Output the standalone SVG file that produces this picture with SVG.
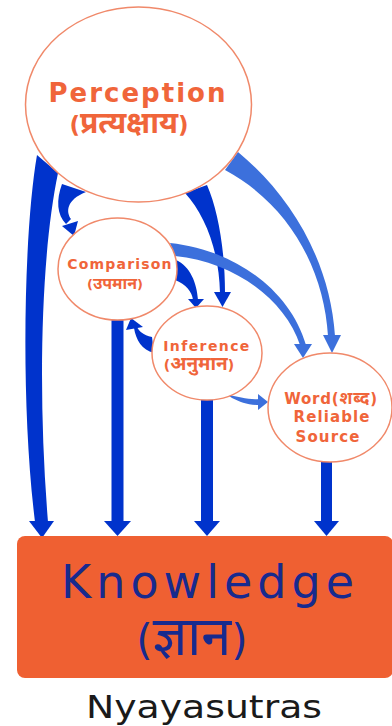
<svg xmlns="http://www.w3.org/2000/svg" width="392" height="726" viewBox="0 0 392 726">
<style>
.node{fill:#ffffff;stroke:#f0896a;stroke-width:1.5}
.lbl{font-family:"DejaVu Sans","Noto Sans",sans-serif;font-weight:bold;fill:#f0653a;text-anchor:middle}
.dk{fill:#0033cc}
.lt{fill:#3c70dc}
.kn{font-family:"DejaVu Sans","Noto Sans",sans-serif;fill:#172a8e;text-anchor:middle}
</style>
<rect width="392" height="726" fill="#ffffff"/>
<g id="connectors">
  <!-- Perception -> Knowledge -->
  <path class="dk" d="M37,155 C24,230 20,400 35,522 L48,522 C38,400 40,260 58,173 Z"/>
  <polygon class="dk" points="29,521 54,521 42,538"/>
  <!-- Comparison -> Knowledge -->
  <rect class="dk" x="111.5" y="318" width="12" height="204"/>
  <polygon class="dk" points="104,521 131,521 117.5,536"/>
  <!-- Inference -> Knowledge -->
  <rect class="dk" x="201" y="398" width="12" height="124"/>
  <polygon class="dk" points="194,521 220,521 207,536"/>
  <!-- Word -> Knowledge -->
  <rect class="dk" x="321" y="459" width="11" height="63"/>
  <polygon class="dk" points="314,521 339,521 326.5,536"/>
  <!-- Perception -> Comparison -->
  <path class="dk" d="M62,184 C56,200 57,215 66,224 L71,219 C66,212 66,200 86,192 Z"/>
  <polygon class="dk" points="62,226 78,221 74,236"/>
  <!-- Perception -> Inference -->
  <path class="dk" d="M185,193 C205,215 219,250 220,293 L225,293 C225,250 218,210 207,185 Z"/>
  <polygon class="dk" points="214,292 231,292 222.5,307"/>
  <!-- Comparison -> Inference -->
  <path class="dk" d="M176,260 C190,266 197,283 198,300 L193,300 C192,292 186,284 175,280 Z"/>
  <polygon class="dk" points="188,299 204,299 196,308"/>
  <!-- Inference -> Comparison -->
  <path class="dk" d="M152,337 C143,335 139,331 137,327 L134,328 C136,340 142,350 154,353 Z"/>
  <polygon class="dk" points="126,330 143,327 131,318"/>
  <!-- Perception -> Word -->
  <path class="lt" d="M238,152 C290,195 330,260 335,336 L328,336 C324,270 290,205 225,170 Z"/>
  <polygon class="lt" points="323,335 341,335 332,353"/>
  <!-- Comparison -> Word -->
  <path class="lt" d="M170,243 C235,250 290,290 306,345 L300,345 C285,300 235,262 175,256 Z"/>
  <polygon class="lt" points="294,344 312,344 303,358"/>
  <!-- Inference -> Word -->
  <path class="lt" d="M226,394 C238,397 250,400 259,399 L259,405 C248,405 240,402 232,398 Z"/>
  <polygon class="lt" points="258,394 258,410 268,402"/>
</g>
<g id="perception">
  <ellipse class="node" cx="138.5" cy="104.5" rx="113" ry="97.5"/>
  <text class="lbl" x="138" y="102" font-size="26" letter-spacing="2">Perception</text>
  <text class="lbl" x="129" y="133" font-size="23">(<tspan font-size="30">प्रत्यक्षाय</tspan>)</text>
</g>
<g id="comparison">
  <ellipse class="node" cx="117.5" cy="269" rx="59.5" ry="51"/>
  <text class="lbl" x="120" y="269" font-size="14" letter-spacing="1.2">Comparison</text>
  <text class="lbl" x="115" y="289" font-size="13">(<tspan font-size="16">उपमान</tspan>)</text>
</g>
<g id="inference">
  <ellipse class="node" cx="207" cy="353" rx="55" ry="47"/>
  <text class="lbl" x="207" y="351" font-size="14" letter-spacing="1.4">Inference</text>
  <text class="lbl" x="199" y="370" font-size="14">(<tspan font-size="19">अनुमान</tspan>)</text>
</g>
<g id="word">
  <ellipse class="node" cx="330" cy="407.5" rx="62" ry="54.5"/>
  <text class="lbl" x="331" y="404" font-size="15" letter-spacing="0.8">Word(<tspan font-size="17">शब्द</tspan>)</text>
  <text class="lbl" x="332" y="422" font-size="15" letter-spacing="1.1">Reliable</text>
  <text class="lbl" x="328" y="442" font-size="15" letter-spacing="1.1">Source</text>
</g>
<g id="knowledge">
  <rect x="17" y="536" width="376" height="142" rx="8" fill="#ef6032"/>
  <text class="kn" x="210" y="598" font-size="46" letter-spacing="5">Knowledge</text>
  <text class="kn" x="192" y="655" font-size="42">(<tspan font-size="54">ज्ञान</tspan>)</text>
</g>
<g id="caption">
  <text x="86" y="718" font-family="DejaVu Sans, sans-serif" font-size="32" fill="#1a1a1a" textLength="236" lengthAdjust="spacingAndGlyphs">Nyayasutras</text>
</g>
</svg>
